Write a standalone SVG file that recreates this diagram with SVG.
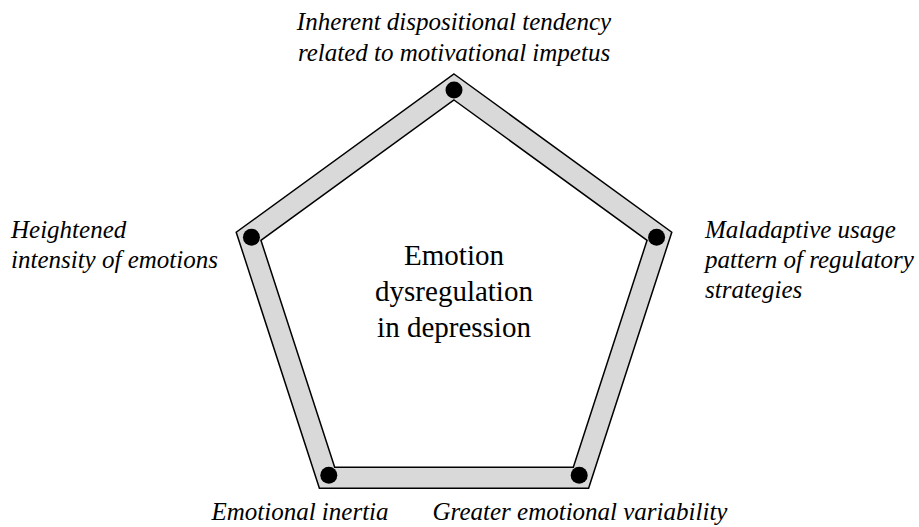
<svg xmlns="http://www.w3.org/2000/svg" width="919" height="527" viewBox="0 0 919 527">
<style>
.dot{fill:#000}
.ring{fill:#d9d9d9;fill-rule:evenodd;stroke:#000;stroke-width:1.5;stroke-linejoin:miter}
</style>
<rect width="919" height="527" fill="#fff"/>
<g id="connectors">
<path class="ring" d="M454,74 L671.79,232.23 L588.6,488.27 L319.4,488.27 L236.21,232.23 Z M454,100 L647.07,240.27 L573.32,467.23 L334.68,467.23 L260.93,240.27 Z"/>
</g>
<g id="center" font-family="Liberation Serif, serif" font-size="29" fill="#000">
<text text-anchor="middle" x="454" y="265">Emotion</text>
<text text-anchor="middle" x="454" y="301">dysregulation</text>
<text text-anchor="middle" x="454" y="337">in depression</text>
</g>
<g font-family="Liberation Serif, serif" font-size="25" font-style="italic" fill="#000">
<g id="node-top">
<circle class="dot" cx="454" cy="90" r="8.5"/>
<text text-anchor="middle" x="454" y="30">Inherent dispositional tendency</text>
<text text-anchor="middle" x="454" y="61">related to motivational impetus</text>
</g>
<g id="node-right">
<circle class="dot" cx="656.57" cy="237.18" r="8.5"/>
<text x="705" y="238">Maladaptive usage</text>
<text x="705" y="268">pattern of regulatory</text>
<text x="705" y="298">strategies</text>
</g>
<g id="node-bottom-right">
<circle class="dot" cx="579.2" cy="475.32" r="8.5"/>
<text text-anchor="middle" x="580" y="520">Greater emotional variability</text>
</g>
<g id="node-bottom-left">
<circle class="dot" cx="328.8" cy="475.32" r="8.5"/>
<text text-anchor="middle" x="300" y="520">Emotional inertia</text>
</g>
<g id="node-left">
<circle class="dot" cx="251.43" cy="237.18" r="8.5"/>
<text x="11" y="238">Heightened</text>
<text x="11" y="268">intensity of emotions</text>
</g>
</g>
</svg>
